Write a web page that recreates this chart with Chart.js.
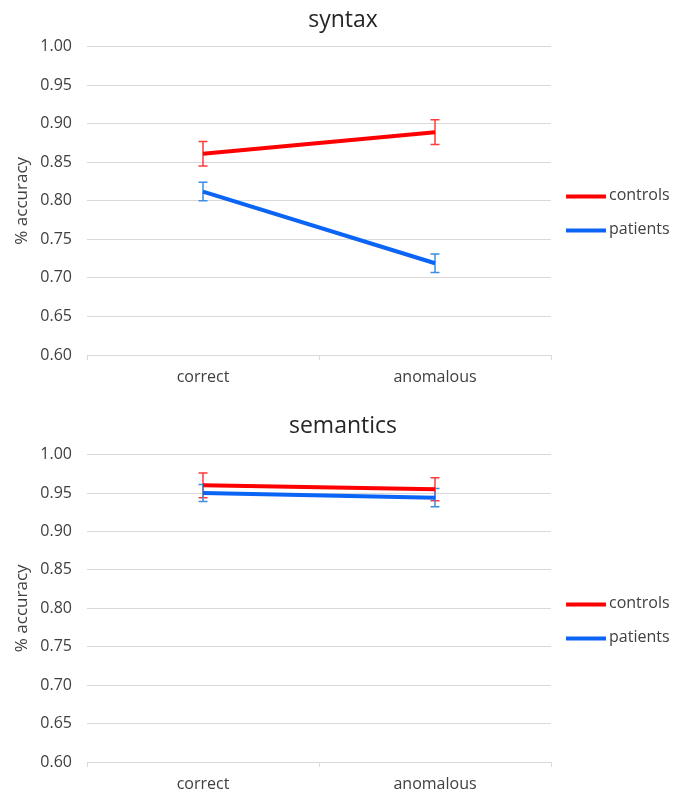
<!DOCTYPE html>
<html>
<head>
<meta charset="utf-8">
<script src="https://cdn.jsdelivr.net/npm/chart.js@4.4.1/dist/chart.umd.min.js"></script>
<style>
    body { margin: 0; background: #fff; }
    .panel { position: relative; width: 686px; }
</style>
</head>
<body>
<div class="panel"><canvas id="chartSyntax" width="686" height="406"></canvas></div>
<div class="panel"><canvas id="chartSemantics" width="686" height="387"></canvas></div>
<script>
const categories = ['correct', 'anomalous'];
const seriesNames = ['controls', 'patients'];
const yTicks = [0.60, 0.65, 0.70, 0.75, 0.80, 0.85, 0.90, 0.95, 1.00];

// syntax
const syntaxControls = [0.861, 0.889];
const syntaxControlsErr = [0.016, 0.016];
const syntaxPatients = [0.812, 0.719];
const syntaxPatientsErr = [0.012, 0.012];

// semantics
const semanticsControls = [0.960, 0.955];
const semanticsControlsErr = [0.016, 0.015];
const semanticsPatients = [0.950, 0.944];
const semanticsPatientsErr = [0.011, 0.012];

const lineColors = ['#ff0000', '#0a64f5'];
const errColors = ['#ff3b3b', '#3d8ee0'];
const FONT = "'Open Sans', sans-serif";
const TEXT = '#404040';
const GRID = '#d9d9d9';

// error bars, drawn with the y scale
const errorBars = {
    id: 'errorBars',
    beforeDatasetsDraw(chart) {
        const ctx = chart.ctx;
        const yScale = chart.scales.y;
        chart.data.datasets.forEach((ds, i) => {
            const meta = chart.getDatasetMeta(i);
            ctx.save();
            ctx.strokeStyle = ds.errColor;
            ctx.lineWidth = 1.5;
            meta.data.forEach((pt, j) => {
                const top = yScale.getPixelForValue(ds.data[j] + ds.err[j]);
                const bot = yScale.getPixelForValue(ds.data[j] - ds.err[j]);
                ctx.beginPath();
                ctx.moveTo(pt.x, top); ctx.lineTo(pt.x, bot);
                ctx.moveTo(pt.x - 4.5, top); ctx.lineTo(pt.x + 4.5, top);
                ctx.moveTo(pt.x - 4.5, bot); ctx.lineTo(pt.x + 4.5, bot);
                ctx.stroke();
            });
            ctx.restore();
        });
    }
};

// legend on the right, line + label
const sideLegend = {
    id: 'sideLegend',
    afterLayout(chart) {
        // title centred over the whole canvas, not only the plot
        if (chart.titleBlock) {
            chart.titleBlock.left = 0;
            chart.titleBlock.right = chart.width;
            chart.titleBlock.width = chart.width;
        }
    },
    afterDraw(chart) {
        const ctx = chart.ctx;
        const x = chart.chartArea.right + 15;
        let y = chart.chartArea.top + 150;
        ctx.save();
        chart.data.datasets.forEach(ds => {
            ctx.strokeStyle = ds.borderColor;
            ctx.lineWidth = 4;
            ctx.beginPath();
            ctx.moveTo(x, y); ctx.lineTo(x + 40, y);
            ctx.stroke();
            ctx.fillStyle = TEXT;
            ctx.font = '16px ' + FONT;
            ctx.textBaseline = 'middle';
            ctx.fillText(ds.label, x + 43, y - 1);
            y += 34;
        });
        ctx.restore();
    }
};

function crearGrafico(id, titulo, controls, controlsErr, patients, patientsErr, titlePad, axisHeight) {
    const series = [[controls, controlsErr], [patients, patientsErr]];
    return new Chart(document.getElementById(id), {
        type: 'line',
        data: {
            labels: categories,
            datasets: series.map((s, i) => ({
                label: seriesNames[i],
                data: s[0],
                err: s[1],
                errColor: errColors[i],
                borderColor: lineColors[i],
                backgroundColor: lineColors[i],
                borderWidth: 4,
                pointRadius: 0,
                tension: 0,
                fill: false
            }))
        },
        options: {
            responsive: false,
            animation: false,
            layout: { padding: { left: 0, right: 135, top: 0, bottom: 0 } },
            plugins: {
                legend: { display: false },
                tooltip: { enabled: false },
                title: {
                    display: true,
                    text: titulo,
                    color: '#262626',
                    font: { family: FONT, size: 23, weight: 'normal', lineHeight: 1.2 },
                    padding: titlePad
                }
            },
            scales: {
                x: {
                    offset: true,
                    grid: { offset: true, drawOnChartArea: false, drawTicks: true, tickLength: 5, color: GRID },
                    border: { display: true, color: GRID, width: 1 },
                    ticks: { color: TEXT, padding: 8, font: { family: FONT, size: 16 } },
                    afterFit: function(scale) { scale.height = axisHeight; }
                },
                y: {
                    min: yTicks[0],
                    max: yTicks[yTicks.length - 1],
                    afterBuildTicks: function(scale) { scale.ticks = yTicks.map(v => ({ value: v })); },
                    grid: { color: GRID, lineWidth: 1, drawTicks: false },
                    border: { display: false },
                    ticks: {
                        color: TEXT,
                        padding: 15,
                        font: { family: FONT, size: 16 },
                        callback: function(value) { return Number(value).toFixed(2); }
                    },
                    title: {
                        display: true,
                        text: '% accuracy',
                        color: TEXT,
                        font: { family: FONT, size: 17 },
                        padding: { top: 12, bottom: 0 }
                    },
                    afterFit: function(scale) { scale.width = 87; }
                }
            }
        },
        plugins: [errorBars, sideLegend]
    });
}

crearGrafico('chartSyntax', 'syntax', syntaxControls, syntaxControlsErr, syntaxPatients, syntaxPatientsErr,
    { top: 7, bottom: 12 }, 51);
crearGrafico('chartSemantics', 'semantics', semanticsControls, semanticsControlsErr, semanticsPatients, semanticsPatientsErr,
    { top: 7, bottom: 14 }, 31);
</script>
</body>
</html>
